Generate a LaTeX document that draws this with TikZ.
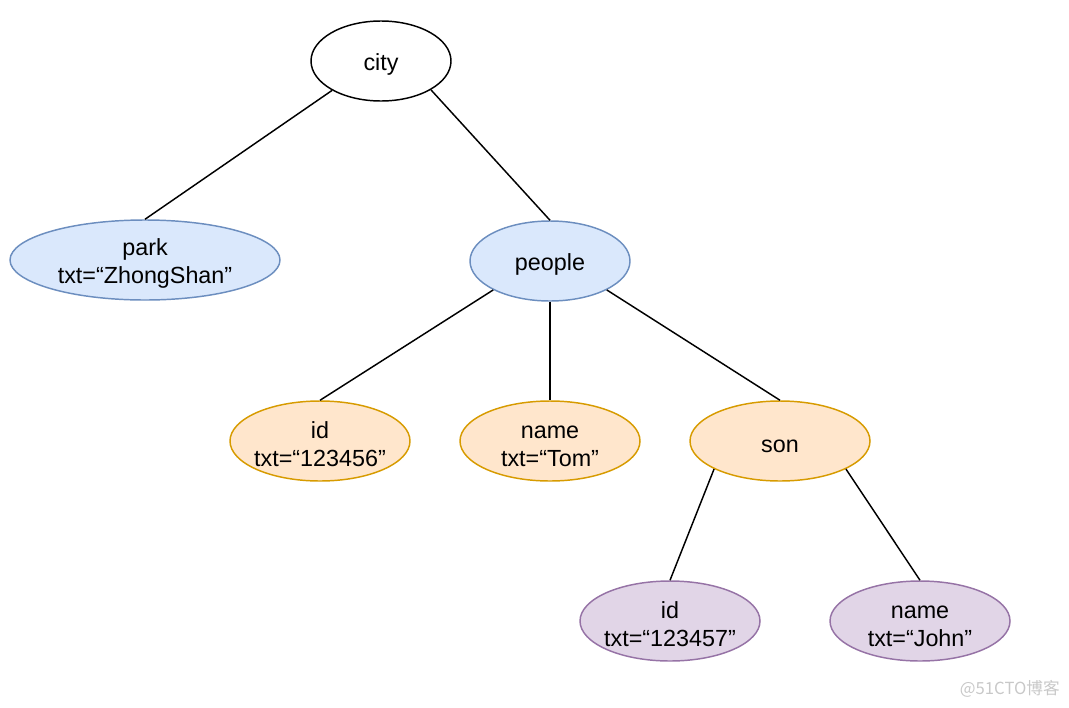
\documentclass[tikz,border=0pt]{standalone}
\usepackage{fontspec}
\setmainfont{Liberation Sans}
\newfontfamily\cjk{Noto Sans CJK SC}
\usetikzlibrary{shapes.geometric}
\definecolor{bluefill}{HTML}{DAE8FC}
\definecolor{bluedraw}{HTML}{6C8EBF}
\definecolor{orangefill}{HTML}{FFE6CC}
\definecolor{orangedraw}{HTML}{D79B00}
\definecolor{purplefill}{HTML}{E1D5E7}
\definecolor{purpledraw}{HTML}{9673A6}
\definecolor{wmgray}{HTML}{C8C8C8}
\newcommand\tstrut{\rule{0pt}{17.5pt}}
\tikzset{
  elbase/.style={ellipse, inner ysep=0pt, inner xsep=-20pt, line width=1.1pt, align=center,
    font=\fontsize{17.5pt}{21pt}\selectfont},
  rootel/.style={elbase, draw=black, fill=white, minimum width=105pt, minimum height=60pt},
  blueel/.style={elbase, draw=bluedraw, fill=bluefill, minimum height=60pt},
  orangeel/.style={elbase, draw=orangedraw, fill=orangefill, minimum width=135pt, minimum height=60pt},
  purpleel/.style={elbase, draw=purpledraw, fill=purplefill, minimum width=135pt, minimum height=60pt},
  edge/.style={draw=black, line width=1.1pt},
}
\begin{document}
\begin{tikzpicture}[x=0.75pt, y=-0.75pt]
\useasboundingbox (0,0) rectangle (1069,707);
\node[rootel] (city) at (381,61) {\tstrut city};
\node[blueel, minimum width=202.5pt] (park) at (145,260) {\tstrut park\\txt=“ZhongShan”};
\node[blueel, minimum width=120pt] (people) at (550,261) {\tstrut people};
\node[orangeel] (id) at (320,441) {\tstrut id\\txt=“123456”};
\node[orangeel] (name) at (550,441) {\tstrut name\\txt=“Tom”};
\node[orangeel] (son) at (780,441) {\tstrut son};
\node[purpleel] (id2) at (670,621) {\tstrut id\\txt=“123457”};
\node[purpleel] (name2) at (920,621) {\tstrut name\\txt=“John”};
\draw[edge] (city.211) -- (park.north);
\draw[edge] (city.330) -- (people.north);
\draw[edge] (people.207) -- (id.north);
\draw[edge] (people.south) -- (name.north);
\draw[edge] (people.333) -- (son.north);
\draw[edge] (son.203) -- (id2.north);
\draw[edge] (son.337) -- (name2.north);
\node[text=wmgray, font=\cjk\fontsize{12.5pt}{14pt}\selectfont, anchor=east, inner sep=0pt] (wm) at (1060,689) {@51CTO博客};
\end{tikzpicture}
\end{document}
